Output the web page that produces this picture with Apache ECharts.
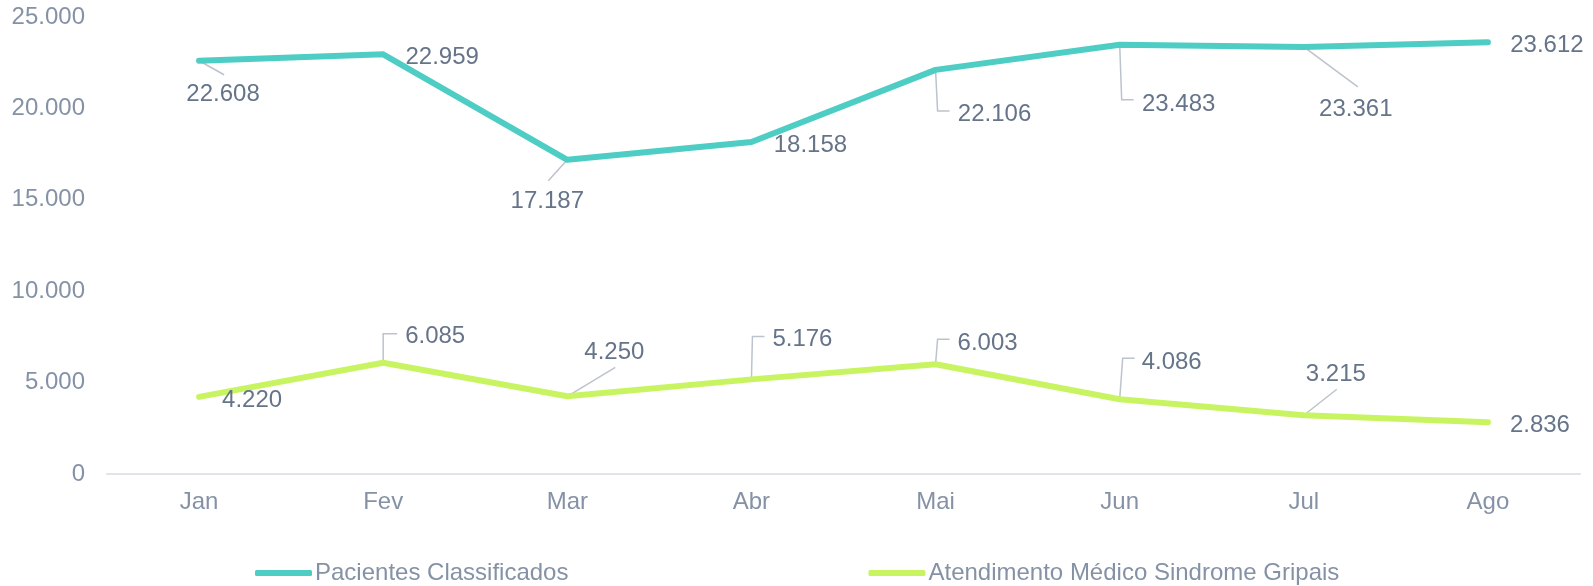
<!DOCTYPE html>
<html>
<head>
<meta charset="utf-8">
<script src="https://cdn.jsdelivr.net/npm/echarts@6/dist/echarts.min.js"></script>
<style>
  html, body { margin: 0; padding: 0; background: #fff; }
  #chart { width: 1593px; height: 586px; }
</style>
</head>
<body>
<div id="chart"></div>
<script>
const months = ['Jan', 'Fev', 'Mar', 'Abr', 'Mai', 'Jun', 'Jul', 'Ago'];
const pacientesClassificados = [22608, 22959, 17187, 18158, 22106, 23483, 23361, 23612];
const atendimentoSindromeGripais = [4220, 6085, 4250, 5176, 6003, 4086, 3215, 2836];
const seriesNames = ['Pacientes Classificados', 'Atendimento Médico Sindrome Gripais'];
const seriesColors = ['#4ecdc4', '#c8f462'];

// label offsets (dx, dy) from each point, per series
const labelOffsets = [
  [[24, 34], [59, 3], [-20, 42], [59, 3], [59, 44], [59, 60], [52, 62], [59, 3]],
  [[53, 4], [52, -26], [47, -44], [51, -40], [52, -21], [52, -37], [32, -41], [52, 3]]
];

// leader line shapes, relative to the point (null = no line)
const guideShapes = [
  [[[0, 0], [25, 14]], null, [[0, 0], [-19, 21]], null,
   [[0, 0], [2, 41], [14, 41]], [[0, 0], [2, 55], [14, 55]], [[0, 0], [54, 40]], null],
  [null, [[0, 0], [0, -29], [14, -29]], [[0, 0], [48, -29]], [[0, 0], [1, -43], [13, -43]],
   [[0, 0], [2, -25], [14, -25]], [[0, 0], [3, -41], [15, -41]], [[0, 0], [33, -26]], null]
];

const fmt = v => String(v).replace(/\B(?=(\d{3})+(?!\d))/g, '.');
const FONT = 'Liberation Sans, Arial, sans-serif';

const chart = echarts.init(document.getElementById('chart'));

function lineSeries(idx, data) {
  const color = seriesColors[idx];
  return {
    name: seriesNames[idx],
    type: 'line',
    z: 3,
    data: data,
    symbol: 'circle',
    symbolSize: 1,
    showSymbol: true,
    itemStyle: { color: color },
    lineStyle: { color: color, width: 6, cap: 'round', join: 'round' },
    label: {
      show: true,
      position: 'inside',
      color: '#667489',
      fontSize: 24,
      fontFamily: FONT,
      formatter: p => fmt(p.value)
    },
    labelLayout: p => ({
      dx: labelOffsets[idx][p.dataIndex][0],
      dy: labelOffsets[idx][p.dataIndex][1]
    }),
    emphasis: { disabled: true }
  };
}

function guideSeries(idx, data) {
  return {
    name: 'guide' + idx,
    type: 'custom',
    z: 2,
    silent: true,
    clip: false,
    data: data.map((v, i) => [i, v]),
    renderItem: (params, api) => {
      const shape = guideShapes[idx][params.dataIndex];
      if (!shape) return null;
      const p = api.coord([api.value(0), api.value(1)]);
      return {
        type: 'polyline',
        shape: { points: shape.map(o => [p[0] + o[0], p[1] + o[1]]) },
        style: { stroke: '#bcc3cd', lineWidth: 1.5, fill: null }
      };
    }
  };
}

chart.setOption({
  animation: false,
  textStyle: { fontFamily: FONT },
  grid: { left: 107, right: 13, top: 17, bottom: 112, containLabel: false },
  legend: {
    left: 255,
    top: 561,
    padding: 0,
    icon: 'roundRect',
    itemWidth: 57,
    itemHeight: 6,
    itemGap: 300,
    textStyle: { color: '#8592a6', fontSize: 24, padding: [0, 0, 0, -2] },
    data: seriesNames
  },
  xAxis: {
    type: 'category',
    data: months,
    boundaryGap: true,
    axisLine: { lineStyle: { color: '#e0e3ea', width: 2 } },
    axisTick: { show: false },
    axisLabel: { color: '#8592a6', fontSize: 24, margin: 16 }
  },
  yAxis: {
    type: 'value',
    min: 0,
    max: 25000,
    interval: 5000,
    axisLine: { show: false },
    axisTick: { show: false },
    splitLine: { show: false },
    axisLabel: { color: '#8592a6', fontSize: 24, margin: 22, formatter: v => fmt(v) }
  },
  series: [
    guideSeries(0, pacientesClassificados),
    guideSeries(1, atendimentoSindromeGripais),
    lineSeries(0, pacientesClassificados),
    lineSeries(1, atendimentoSindromeGripais)
  ]
});
</script>
</body>
</html>
